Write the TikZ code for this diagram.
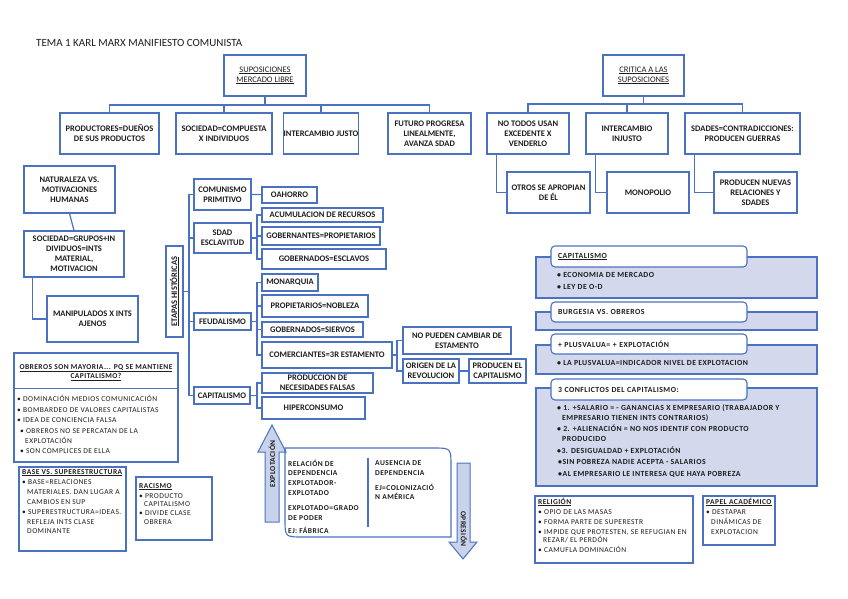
\documentclass[tikz,border=0pt]{standalone}
\usepackage{fontspec}
\setmainfont{Carlito}
\newfontfamily\espaciada[LetterSpace=6]{Carlito}
\usepackage{tikz}
\usetikzlibrary{calc}
\definecolor{azul}{HTML}{4A72C0}
\definecolor{lila}{HTML}{D3D8EC}
\definecolor{flechaazul}{HTML}{C8D2EA}
\definecolor{texto}{HTML}{1E1E1E}
\tikzstyle{caja}=[draw=azul, line width=1.1pt, fill=white, align=center, inner sep=0pt, text=texto, font=\bfseries\fontsize{8.5}{10}\selectfont]
\tikzstyle{linea}=[draw=azul, line width=1.2pt]
\tikzstyle{marco}=[draw=azul, line width=1.1pt]
\tikzstyle{lista}=[anchor=north west, align=left, inner sep=0pt, text=texto, font=\espaciada\fontsize{7.5}{9.8}\selectfont]
\tikzstyle{listab}=[lista, font=\espaciada\bfseries\fontsize{7.8}{11.5}\selectfont]
\tikzstyle{panel}=[draw=azul, line width=1.1pt, fill=lila]
\tikzstyle{cabecera}=[draw=azul, line width=1.1pt, fill=white, rounded corners=4pt, text width=182pt, inner xsep=7pt, inner ysep=0pt, align=left, text=texto, font=\espaciada\bfseries\fontsize{7.8}{9}\selectfont]
\tikzstyle{flecha}=[draw=azul, line width=1pt, fill=flechaazul]

\begin{document}
\begin{tikzpicture}[x=1pt,y=-1pt]
\useasboundingbox (0,0) rectangle (848,599);
\fill[white] (0,0) rectangle (848,599);

\node[anchor=west, inner sep=0pt, text=texto, font=\fontsize{11}{13}\selectfont] (titulo) at (36,43) {TEMA 1 KARL MARX MANIFIESTO COMUNISTA};

% suposiciones del mercado libre
\node[caja, font=\fontsize{8.5}{10}\selectfont, minimum width=82pt, minimum height=41pt] (sup) at (265,75.5) {\underline{SUPOSICIONES}\\\underline{MERCADO LIBRE}};
\node[caja, minimum width=99pt, minimum height=41pt] (p1) at (109.5,133.5) {PRODUCTORES=DUEÑOS\\DE SUS PRODUCTOS};
\node[caja, minimum width=96pt, minimum height=41pt] (p2) at (224,133.5) {SOCIEDAD=COMPUESTA\\X INDIVIDUOS};
\node[caja, minimum width=64pt, minimum height=41pt] (p3) at (321,133.5) {INTERCAMBIO JUSTO};
\node[caja, minimum width=83pt, minimum height=41pt] (p4) at (429.5,133.5) {FUTURO PROGRESA\\LINEALMENTE,\\AVANZA SDAD};
\coordinate (hsup) at (265,105);
\draw[linea] (sup.south) -- (hsup);
\foreach \n in {p1,p2,p3,p4}
	\draw[linea] (\n.north) |- (hsup);

% critica
\node[caja, font=\fontsize{8.5}{10}\selectfont, minimum width=81pt, minimum height=41pt] (crit) at (643.5,75.5) {\underline{CRITICA A LAS}\\\underline{SUPOSICIONES}};
\node[caja, minimum width=82pt, minimum height=41pt] (c1) at (528,133.5) {NO TODOS USAN\\EXCEDENTE X\\VENDERLO};
\node[caja, minimum width=82pt, minimum height=41pt] (c2) at (627,133.5) {INTERCAMBIO\\INJUSTO};
\node[caja, minimum width=115pt, minimum height=41pt] (c3) at (742.5,133.5) {SDADES=CONTRADICCIONES:\\PRODUCEN GUERRAS};
\node[caja, minimum width=83pt, minimum height=41pt] (g1) at (548.5,192.5) {OTROS SE APROPIAN\\DE ÉL};
\node[caja, minimum width=82pt, minimum height=41pt] (g2) at (648,192.5) {MONOPOLIO};
\node[caja, minimum width=83pt, minimum height=41pt] (g3) at (755.5,192.5) {PRODUCEN NUEVAS\\RELACIONES Y\\SDADES};
\coordinate (hcrit) at (643.5,104);
\draw[linea] (crit.south) -- (hcrit);
\foreach \n in {c1,c2,c3}
	\draw[linea] (\n.north) |- (hcrit);
\foreach \a/\b in {c1/g1,c2/g2,c3/g3}
	\draw[linea] ([xshift=10pt]\a.south west) |- (\b.west);

% naturaleza humana
\node[caja, minimum width=91pt, minimum height=47pt] (nat) at (69.5,189.5) {NATURALEZA VS.\\MOTIVACIONES\\HUMANAS};
\node[caja, minimum width=100pt, minimum height=46pt] (soc) at (74,254) {SOCIEDAD=GRUPOS+IN\\DIVIDUOS=INTS\\MATERIAL,\\MOTIVACION};
\node[caja, minimum width=91pt, minimum height=46pt] (manip) at (92.5,319) {MANIPULADOS X INTS\\AJENOS};
\draw[linea] (nat.south) -- (soc.north);
\draw[linea] ([xshift=9pt]soc.south west) |- (manip.west);

% etapas historicas
\node[caja, rotate=90, minimum width=91pt, minimum height=17pt] (etapas) at (174.5,291.5) {\underline{ETAPAS HISTÓRICAS}};
\node[caja, minimum width=57pt, minimum height=31pt] (com) at (222.5,194.5) {COMUNISMO\\PRIMITIVO};
\node[caja, minimum width=57pt, minimum height=30pt] (esc) at (222.5,238) {SDAD\\ESCLAVITUD};
\node[caja, minimum width=57pt, minimum height=17pt] (feu) at (222.5,321.5) {FEUDALISMO};
\node[caja, minimum width=56pt, minimum height=17pt] (cap) at (222,395.5) {CAPITALISMO};
\coordinate (tronco) at (189,291.5);
\draw[linea] (etapas.south) -- (tronco);
\foreach \n in {com,esc,feu,cap}
	\draw[linea] (tronco) |- (\n.west);

\node[caja, minimum width=55pt, minimum height=16pt] (ahorro) at (289.5,195) {OAHORRO};
\draw[linea] (com.east) -- (ahorro);

\node[caja, minimum width=121pt, minimum height=14pt] (acum) at (322.5,215) {ACUMULACION DE RECURSOS};
\node[caja, minimum width=118pt, minimum height=18pt] (gobp) at (321,236) {GOBERNANTES=PROPIETARIOS};
\node[caja, minimum width=124pt, minimum height=20pt] (gobe) at (324,259) {GOBERNADOS=ESCLAVOS};
\coordinate (resc) at (257,238);
\draw[linea] (esc.east) -- (resc);
\foreach \n in {acum,gobp,gobe}
	\draw[linea] (resc) |- (\n.west);

\node[caja, minimum width=56pt, minimum height=17pt] (mon) at (290,282.5) {MONARQUIA};
\node[caja, minimum width=106pt, minimum height=22pt] (prop) at (315,306) {PROPIETARIOS=NOBLEZA};
\node[caja, minimum width=101pt, minimum height=15pt] (sier) at (312.5,329.5) {GOBERNADOS=SIERVOS};
\node[caja, minimum width=130pt, minimum height=26pt] (come) at (327,355) {COMERCIANTES=3R ESTAMENTO};
\coordinate (rfeu) at (257,321.5);
\draw[linea] (feu.east) -- (rfeu);
\foreach \n in {mon,prop,sier,come}
	\draw[linea] (rfeu) |- (\n.west);

\node[caja, minimum width=108pt, minimum height=27pt] (nopue) at (457,340.5) {NO PUEDEN CAMBIAR DE\\ESTAMENTO};
\node[caja, minimum width=56pt, minimum height=24pt] (orig) at (431,371) {ORIGEN DE LA\\REVOLUCION};
\node[caja, minimum width=57pt, minimum height=24pt] (prodc) at (497.5,371) {PRODUCEN EL\\CAPITALISMO};
\coordinate (rcome) at (397,355);
\draw[linea] (come.east) -- (rcome);
\foreach \n in {nopue,orig}
	\draw[linea] (rcome) |- (\n.west);
\draw[linea] (orig.east) -- (prodc.west);

\node[caja, minimum width=111pt, minimum height=20pt] (necf) at (317.5,383) {PRODUCCION DE\\NECESIDADES FALSAS};
\node[caja, minimum width=103pt, minimum height=22pt] (hiper) at (313.5,408) {HIPERCONSUMO};
\coordinate (rcap) at (257,395.5);
\draw[linea] (cap.east) -- (rcap);
\foreach \n in {necf,hiper}
	\draw[linea] (rcap) |- (\n.west);

% obreros, base, racismo
\node[marco, minimum width=164pt, minimum height=109pt] (obr) at (96,407.5) {};
\draw[marco] ([yshift=-36pt]obr.north west) -- ([yshift=-36pt]obr.north east);
\node[align=center, inner sep=0pt, text=texto, font=\espaciada\bfseries\fontsize{7.5}{9.5}\selectfont] (obrtit) at (96,372.5) {\underline{OBREROS SON MAYORIA... PQ SE MANTIENE}\\\underline{CAPITALISMO?}};
\node[lista, font=\espaciada\fontsize{7.5}{10.4}\selectfont] (obrlis) at (17,395.5) {• DOMINACIÓN MEDIOS COMUNICACIÓN\\
• BOMBARDEO DE VALORES CAPITALISTAS\\
• IDEA DE CONCIENCIA FALSA\\
\hspace*{3pt}• OBREROS NO SE PERCATAN DE LA\\
\hspace*{8pt}EXPLOTACIÓN\\
\hspace*{3pt}• SON COMPLICES DE ELLA};

\node[marco, minimum width=107pt, minimum height=84pt] (base) at (72.5,509) {};
\node[lista] (baselis) at (22,469) {\textbf{\underline{BASE VS. SUPERESTRUCTURA}}\\[1pt]
• BASE=RELACIONES\\
\hspace*{5pt}MATERIALES. DAN LUGAR A\\
\hspace*{5pt}CAMBIOS EN SUP\\
• SUPERESTRUCTURA=IDEAS.\\
\hspace*{5pt}REFLEJA INTS CLASE\\
\hspace*{5pt}DOMINANTE};

\node[marco, minimum width=76pt, minimum height=63pt] (racismo) at (174,508.5) {};
\node[lista, font=\espaciada\fontsize{7.5}{8.9}\selectfont] (raclis) at (139,483) {\textbf{\underline{RACISMO}}\\[1pt]
• PRODUCTO\\
\hspace*{5pt}CAPITALISMO\\
• DIVIDE CLASE\\
\hspace*{5pt}OBRERA};

% explotacion / opresion
\draw[flecha] (265,522) -- (265,452) -- (258,452) -- (272,425) -- (286,452) -- (279,452) -- (279,522) -- cycle;
\draw[flecha] (457,463) -- (470,463) -- (470,542) -- (477,542) -- (463,559) -- (449,542) -- (457,542) -- cycle;
\node[rotate=90, inner sep=0pt, text=texto, font=\espaciada\bfseries\fontsize{7.5}{8}\selectfont] (explot) at (272,464) {EXPLOTACIÓN};
\node[rotate=-90, inner sep=0pt, text=texto, font=\espaciada\bfseries\fontsize{7.5}{8}\selectfont] (opres) at (464,529) {OPRESIÓN};
\draw[marco] (285,448) -- (433,448) .. controls (451,448) .. (451,466) -- (451,537) -- (303,537) .. controls (285,537) .. (285,519) -- cycle;
\draw[marco] (368,458) -- (368,527);
\node[lista, font=\espaciada\bfseries\fontsize{7.5}{9.7}\selectfont] (depen) at (288,459.5) {RELACIÓN DE\\
DEPENDENCIA\\
EXPLOTADOR-\\
EXPLOTADO\\[5.5pt]
EXPLOTADO=GRADO\\
DE PODER\\[3.5pt]
EJ: FÁBRICA};
\node[lista, font=\espaciada\bfseries\fontsize{7.5}{9.7}\selectfont] (ausen) at (375,460.5) {AUSENCIA DE\\
DEPENDENCIA\\[5pt]
EJ=COLONIZACIÓ\\
N AMÉRICA};

% paneles de capitalismo
\node[panel, minimum width=281pt, minimum height=41pt] (pcap) at (676.5,277.5) {};
\node[cabecera, minimum height=21pt] (hcap) at (649,256.5) {\underline{CAPITALISMO}};
\node[listab] (lcap) at (557,272.5) {• ECONOMIA DE MERCADO\\• LEY DE O-D};

\node[panel, minimum width=281pt, minimum height=18pt] (pburg) at (676.5,321) {};
\node[cabecera, minimum height=20pt] (hburg) at (649,312) {BURGESIA VS. OBREROS};

\node[panel, minimum width=281pt, minimum height=29pt] (pplus) at (676.5,359.5) {};
\node[cabecera, minimum height=20pt] (hplus) at (649,344) {+ PLUSVALUA= + EXPLOTACIÓN};
\node[listab] (lplus) at (557,360.5) {• LA PLUSVALUA=INDICADOR NIVEL DE EXPLOTACION};

\node[panel, minimum width=281pt, minimum height=98pt] (pconf) at (676.5,437) {};
\node[cabecera, minimum height=21pt] (hconf) at (649,389.5) {3 CONFLICTOS DEL CAPITALISMO:};
\node[listab] (lconf) at (557,404.5) {• 1. +SALARIO = - GANANCIAS X EMPRESARIO (TRABAJADOR Y\\[-1.5pt]
\hspace*{5pt}EMPRESARIO TIENEN INTS CONTRARIOS)\\
• 2. +ALIENACIÓN = NO NOS IDENTIF CON PRODUCTO\\[-1.5pt]
\hspace*{5pt}PRODUCIDO\\
•3. DESIGUALDAD + EXPLOTACIÓN\\
\hspace*{1pt}•SIN POBREZA NADIE ACEPTA - SALARIOS\\
\hspace*{1pt}•AL EMPRESARIO LE INTERESA QUE HAYA POBREZA};

% religion, papel academico
\node[marco, minimum width=158pt, minimum height=67pt] (relig) at (614,529.5) {};
\node[lista] (rellis) at (538,497.5) {\textbf{\underline{RELIGIÓN}}\\[1pt]
• OPIO DE LAS MASAS\\
• FORMA PARTE DE SUPERESTR\\
• IMPIDE QUE PROTESTEN, SE REFUGIAN EN\\[-1.5pt]
\hspace*{5pt}REZAR/ EL PERDÓN\\
• CAMUFLA DOMINACIÓN};

\node[marco, minimum width=72pt, minimum height=49pt] (papel) at (739,520.5) {};
\node[lista] (paplis) at (706,497.5) {\textbf{\underline{PAPEL ACADÉMICO}}\\[1pt]
• DESTAPAR\\
\hspace*{5pt}DINÁMICAS DE\\
\hspace*{5pt}EXPLOTACION};
\end{tikzpicture}
\end{document}
